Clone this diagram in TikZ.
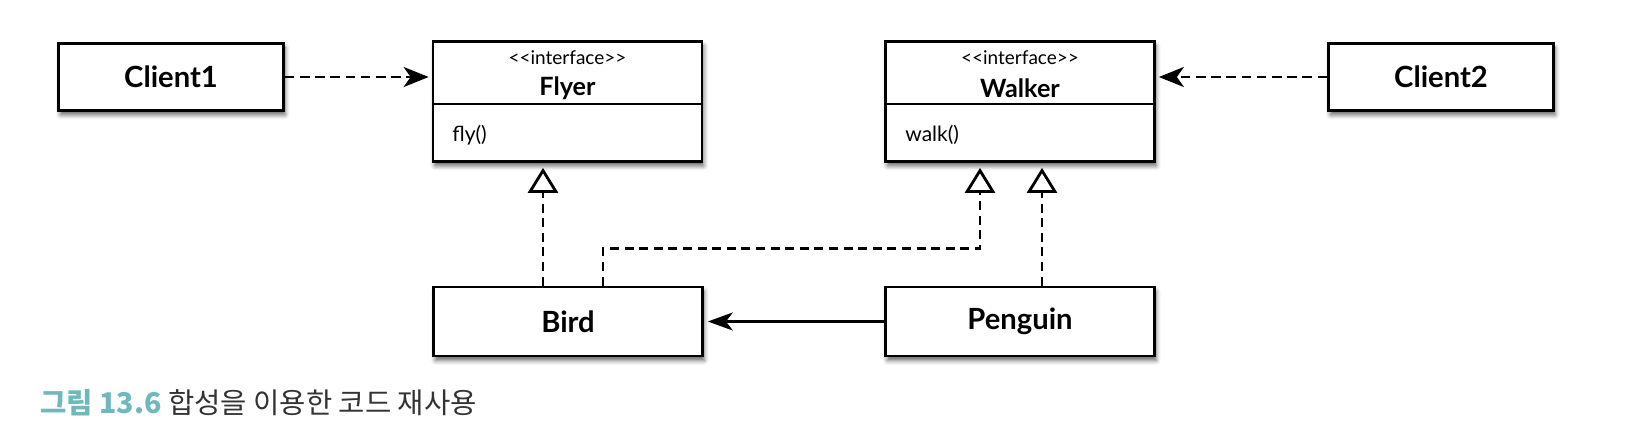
\documentclass[tikz,border=0pt]{standalone}
\usepackage{fontspec}
\setmainfont{Lato}
\newfontfamily\kr{Noto Sans CJK KR}
\usetikzlibrary{arrows.meta,shadows.blur,calc}
\definecolor{capteal}{HTML}{6FB8BB}
\definecolor{capgray}{HTML}{333333}
\begin{document}
\begin{tikzpicture}[x=0.5pt,y=-0.5pt,
  box/.style={draw, line width=1.35pt, fill=white, rectangle, inner sep=0pt,
    blur shadow={shadow xshift=0.9pt, shadow yshift=-2.2pt, shadow blur radius=2.2pt, shadow opacity=60}},
  smallbox/.style={box, minimum width=112.5pt, minimum height=33.5pt, font=\fontsize{14.6}{17}\selectfont\bfseries},
  ifacebox/.style={box, minimum width=134.5pt, minimum height=60pt},
  classbox/.style={box, minimum width=134.5pt, minimum height=34.5pt, font=\fontsize{14.6}{17}\selectfont\bfseries},
  stereo/.style={inner sep=0pt, font=\fontsize{9.5}{11}\selectfont},
  iname/.style={inner sep=0pt, font=\fontsize{12.6}{15}\selectfont\bfseries},
  oper/.style={inner sep=0pt, anchor=west, font=\fontsize{10.5}{12}\selectfont},
  dep/.style={line width=1.4pt, dash pattern=on 4.8pt off 2.8pt,
    -{Stealth[length=12.5pt,width=10pt,inset=3.5pt]}, shorten >=1.5pt},
  real/.style={line width=1.4pt, dash pattern=on 4.5pt off 2.8pt,
    -{Triangle[open,length=12.5pt,width=15pt,line width=1.4pt]}, shorten >=2.5pt},
  assoc/.style={line width=1.4pt, -{Stealth[length=12.5pt,width=9pt,inset=3.5pt]}, shorten >=2pt}
]
\useasboundingbox (0,0) rectangle (1628,444);

% boxes
\node[smallbox] (client1) at (171,77) {Client1};
\node[smallbox] (client2) at (1441,77) {Client2};
\node[ifacebox] (flyer) at (567.5,101.5) {};
\node[ifacebox] (walker) at (1020,101.5) {};
\node[classbox] (bird) at (568,321.5) {Bird};
\node[classbox] (penguin) at (1020,321.5) {Penguin};

% interface compartments
\draw[line width=1.35pt] ($(flyer.north west)+(0,64)$) -- ($(flyer.north east)+(0,64)$);
\draw[line width=1.35pt] ($(walker.north west)+(0,64)$) -- ($(walker.north east)+(0,64)$);

\node[stereo] (flyst) at (567.5,58) {<{}<interface>{}>};
\node[iname] (flyname) at (567.5,88) {Flyer};
\node[oper] (flyop) at (452,135) {fly()};
\node[stereo] (walkst) at (1020,58) {<{}<interface>{}>};
\node[iname] (walkname) at (1020,88) {Walker};
\node[oper] (walkop) at (905,135) {walk()};

% connectors
\draw[dep] (client1.east) -- (client1.east -| flyer.west);
\draw[dep] (client2.west) -- (client2.west -| walker.east);

\coordinate (bf0) at ($(bird.north)+(-25,0)$);
\coordinate (bf1) at ($(flyer.south)+(-24.5,0)$);
\draw[real] (bf0) -- (bf1);

\coordinate (bw0) at ($(bird.north)+(35,0)$);
\coordinate (bw1) at ($(walker.south)+(-40,0)$);
\draw[real] (bw0) |- ($(bw1)+(0,86)$) -- (bw1);

\coordinate (pw0) at ($(penguin.north)+(22,0)$);
\coordinate (pw1) at ($(walker.south)+(22,0)$);
\draw[real] (pw0) -- (pw1);

\draw[assoc] (penguin.west) -- (bird.east);

% caption
\node[anchor=west, inner sep=0pt] (cap) at (40,403)
  {\kr\fontsize{14.3}{17}\selectfont{\bfseries\color{capteal}그림 13.6} \color{capgray}합성을 이용한 코드 재사용};
\end{tikzpicture}
\end{document}
